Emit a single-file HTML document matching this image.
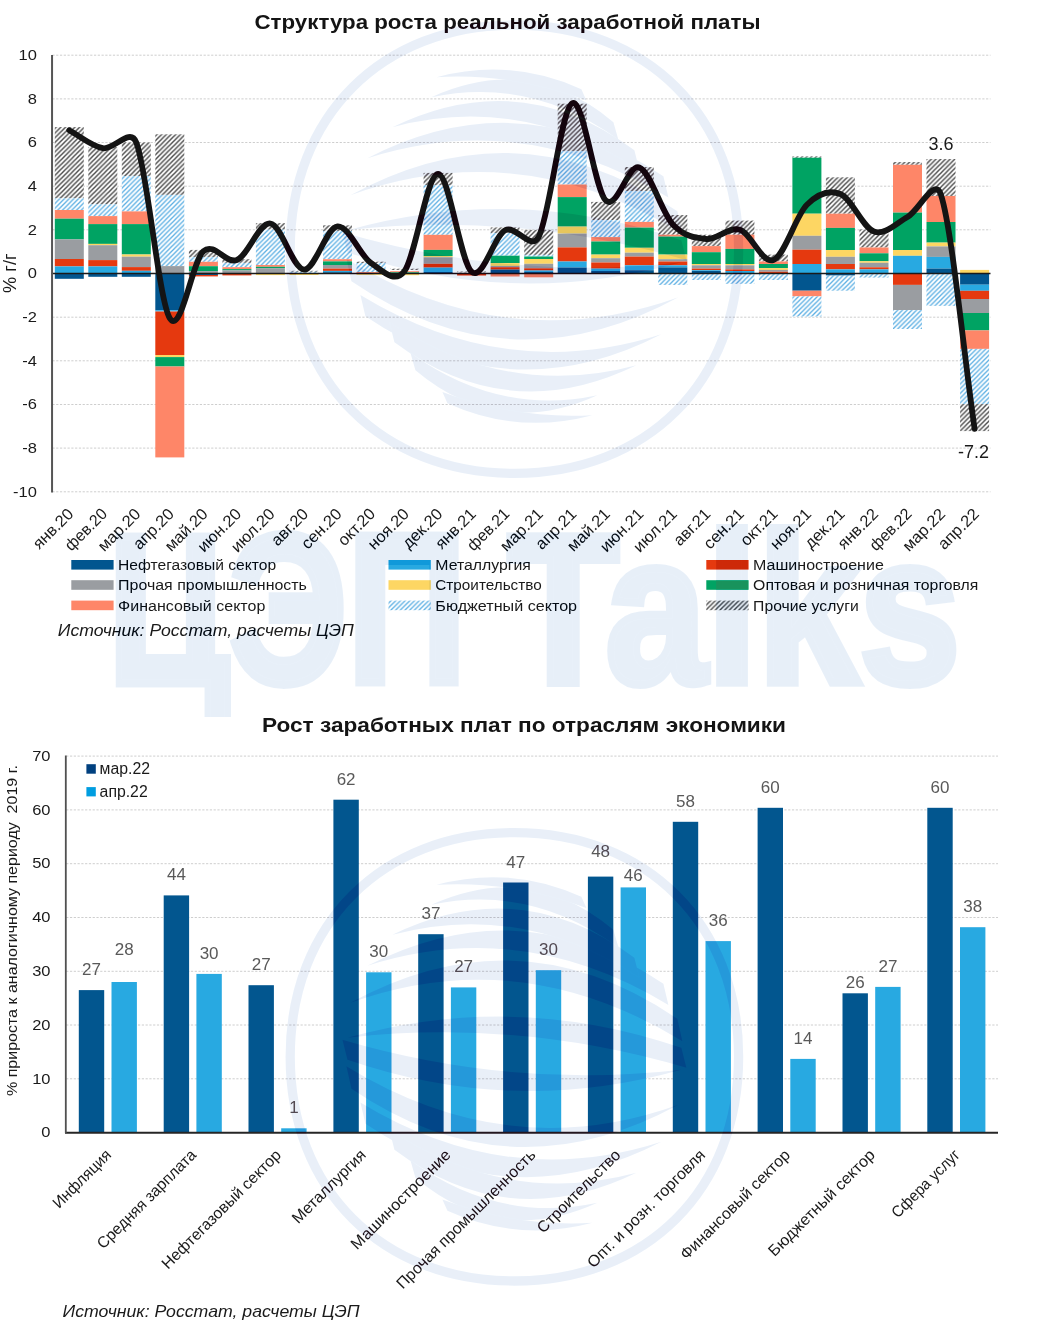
<!DOCTYPE html>
<html lang="ru"><head><meta charset="utf-8"><title>Структура роста реальной заработной платы</title>
<style>html,body{margin:0;padding:0;background:#fff}svg{display:block}</style></head>
<body>
<svg width="1038" height="1337" viewBox="0 0 1038 1337" font-family="'Liberation Sans', sans-serif">
<defs>
<pattern id="hB" width="4.7" height="4.7" patternUnits="userSpaceOnUse"><rect width="4.7" height="4.7" fill="#fff"/><path d="M-1,5.7 L5.7,-1 M-1,1 L1,-1 M3.7,5.7 L5.7,3.7" stroke="#5cafe3" stroke-width="1.32"/></pattern>
<pattern id="hH" width="4.7" height="4.7" patternUnits="userSpaceOnUse"><rect width="4.7" height="4.7" fill="#fff"/><path d="M-1,5.7 L5.7,-1 M-1,1 L1,-1 M3.7,5.7 L5.7,3.7" stroke="#4c4c4c" stroke-width="1.45"/></pattern>
</defs>
<rect width="1038" height="1337" fill="#fff"/>
<line x1="52.4" x2="990.5" y1="491.8" y2="491.8" stroke="#c8c8c8" stroke-width="0.9" stroke-dasharray="2.2,1.58"/>
<line x1="52.4" x2="990.5" y1="448.1" y2="448.1" stroke="#c8c8c8" stroke-width="0.9" stroke-dasharray="2.2,1.58"/>
<line x1="52.4" x2="990.5" y1="404.5" y2="404.5" stroke="#c8c8c8" stroke-width="0.9" stroke-dasharray="2.2,1.58"/>
<line x1="52.4" x2="990.5" y1="360.8" y2="360.8" stroke="#c8c8c8" stroke-width="0.9" stroke-dasharray="2.2,1.58"/>
<line x1="52.4" x2="990.5" y1="317.2" y2="317.2" stroke="#c8c8c8" stroke-width="0.9" stroke-dasharray="2.2,1.58"/>
<line x1="52.4" x2="990.5" y1="229.8" y2="229.8" stroke="#c8c8c8" stroke-width="0.9" stroke-dasharray="2.2,1.58"/>
<line x1="52.4" x2="990.5" y1="186.2" y2="186.2" stroke="#c8c8c8" stroke-width="0.9" stroke-dasharray="2.2,1.58"/>
<line x1="52.4" x2="990.5" y1="142.5" y2="142.5" stroke="#c8c8c8" stroke-width="0.9" stroke-dasharray="2.2,1.58"/>
<line x1="52.4" x2="990.5" y1="98.9" y2="98.9" stroke="#c8c8c8" stroke-width="0.9" stroke-dasharray="2.2,1.58"/>
<line x1="52.4" x2="990.5" y1="55.2" y2="55.2" stroke="#c8c8c8" stroke-width="0.9" stroke-dasharray="2.2,1.58"/>
<rect x="54.8" y="127.1" width="29.0" height="71.2" fill="url(#hH)"/>
<rect x="54.8" y="198.3" width="29.0" height="11.7" fill="url(#hB)"/>
<rect x="54.8" y="210.0" width="29.0" height="8.7" fill="#fe8668"/>
<rect x="54.8" y="218.7" width="29.0" height="20.7" fill="#00a363"/>
<rect x="54.8" y="239.4" width="29.0" height="19.6" fill="#9a9da1"/>
<rect x="54.8" y="259.0" width="29.0" height="7.4" fill="#e5390f"/>
<rect x="54.8" y="266.4" width="29.0" height="7.1" fill="#28a9e1"/>
<rect x="54.8" y="273.5" width="29.0" height="5.3" fill="#02568f"/>
<rect x="88.3" y="147.0" width="29.0" height="57.4" fill="url(#hH)"/>
<rect x="88.3" y="204.4" width="29.0" height="11.7" fill="url(#hB)"/>
<rect x="88.3" y="216.1" width="29.0" height="8.0" fill="#fe8668"/>
<rect x="88.3" y="224.1" width="29.0" height="19.8" fill="#00a363"/>
<rect x="88.3" y="243.9" width="29.0" height="1.3" fill="#fdd663"/>
<rect x="88.3" y="245.2" width="29.0" height="14.9" fill="#9a9da1"/>
<rect x="88.3" y="260.1" width="29.0" height="6.3" fill="#e5390f"/>
<rect x="88.3" y="266.4" width="29.0" height="7.1" fill="#28a9e1"/>
<rect x="88.3" y="273.5" width="29.0" height="3.3" fill="#02568f"/>
<rect x="121.8" y="142.4" width="29.0" height="33.7" fill="url(#hH)"/>
<rect x="121.8" y="176.1" width="29.0" height="35.3" fill="url(#hB)"/>
<rect x="121.8" y="211.4" width="29.0" height="12.7" fill="#fe8668"/>
<rect x="121.8" y="224.1" width="29.0" height="30.4" fill="#00a363"/>
<rect x="121.8" y="254.5" width="29.0" height="2.2" fill="#fdd663"/>
<rect x="121.8" y="256.7" width="29.0" height="10.4" fill="#9a9da1"/>
<rect x="121.8" y="267.1" width="29.0" height="3.7" fill="#e5390f"/>
<rect x="121.8" y="270.8" width="29.0" height="2.7" fill="#28a9e1"/>
<rect x="121.8" y="273.5" width="29.0" height="3.3" fill="#02568f"/>
<rect x="155.3" y="134.3" width="29.0" height="60.6" fill="url(#hH)"/>
<rect x="155.3" y="194.9" width="29.0" height="71.2" fill="url(#hB)"/>
<rect x="155.3" y="266.1" width="29.0" height="7.4" fill="#9a9da1"/>
<rect x="155.3" y="273.5" width="29.0" height="36.8" fill="#02568f"/>
<rect x="155.3" y="310.3" width="29.0" height="1.2" fill="#28a9e1"/>
<rect x="155.3" y="311.5" width="29.0" height="43.5" fill="#e5390f"/>
<rect x="155.3" y="355.0" width="29.0" height="2.1" fill="#fdd663"/>
<rect x="155.3" y="357.1" width="29.0" height="9.4" fill="#00a363"/>
<rect x="155.3" y="366.5" width="29.0" height="90.9" fill="#fe8668"/>
<rect x="188.9" y="249.9" width="29.0" height="7.2" fill="url(#hH)"/>
<rect x="188.9" y="257.1" width="29.0" height="4.7" fill="url(#hB)"/>
<rect x="188.9" y="261.8" width="29.0" height="4.4" fill="#fe8668"/>
<rect x="188.9" y="266.2" width="29.0" height="4.9" fill="#00a363"/>
<rect x="188.9" y="271.1" width="29.0" height="2.4" fill="#9a9da1"/>
<rect x="188.9" y="273.5" width="29.0" height="1.5" fill="#02568f"/>
<rect x="188.9" y="275.0" width="29.0" height="1.4" fill="#e5390f"/>
<rect x="222.4" y="259.2" width="29.0" height="3.7" fill="url(#hH)"/>
<rect x="222.4" y="262.9" width="29.0" height="4.3" fill="url(#hB)"/>
<rect x="222.4" y="267.2" width="29.0" height="1.9" fill="#fe8668"/>
<rect x="222.4" y="269.1" width="29.0" height="1.3" fill="#00a363"/>
<rect x="222.4" y="270.4" width="29.0" height="2.6" fill="#9a9da1"/>
<rect x="222.4" y="273.0" width="29.0" height="0.5" fill="#02568f"/>
<rect x="222.4" y="273.5" width="29.0" height="1.9" fill="#e5390f"/>
<rect x="255.9" y="223.1" width="29.0" height="6.5" fill="url(#hH)"/>
<rect x="255.9" y="229.6" width="29.0" height="35.4" fill="url(#hB)"/>
<rect x="255.9" y="265.0" width="29.0" height="1.8" fill="#fe8668"/>
<rect x="255.9" y="266.8" width="29.0" height="1.4" fill="#00a363"/>
<rect x="255.9" y="268.2" width="29.0" height="5.3" fill="#9a9da1"/>
<rect x="255.9" y="273.5" width="29.0" height="1.6" fill="#fdd663"/>
<rect x="289.5" y="270.8" width="29.0" height="1.0" fill="url(#hH)"/>
<rect x="289.5" y="271.8" width="29.0" height="1.7" fill="url(#hB)"/>
<rect x="289.5" y="273.5" width="29.0" height="1.5" fill="#fdd663"/>
<rect x="323.0" y="225.3" width="29.0" height="5.8" fill="url(#hH)"/>
<rect x="323.0" y="231.1" width="29.0" height="28.1" fill="url(#hB)"/>
<rect x="323.0" y="259.2" width="29.0" height="2.2" fill="#fe8668"/>
<rect x="323.0" y="261.4" width="29.0" height="3.6" fill="#00a363"/>
<rect x="323.0" y="265.0" width="29.0" height="3.6" fill="#9a9da1"/>
<rect x="323.0" y="268.6" width="29.0" height="2.3" fill="#e5390f"/>
<rect x="323.0" y="270.9" width="29.0" height="1.3" fill="#28a9e1"/>
<rect x="323.0" y="272.2" width="29.0" height="1.3" fill="#02568f"/>
<rect x="356.5" y="261.7" width="29.0" height="1.3" fill="url(#hH)"/>
<rect x="356.5" y="263.0" width="29.0" height="9.0" fill="url(#hB)"/>
<rect x="356.5" y="272.0" width="29.0" height="0.8" fill="#fe8668"/>
<rect x="356.5" y="272.8" width="29.0" height="0.7" fill="#e5390f"/>
<rect x="356.5" y="273.5" width="29.0" height="1.3" fill="#fdd663"/>
<rect x="390.1" y="268.7" width="29.0" height="1.3" fill="url(#hH)"/>
<rect x="390.1" y="271.2" width="29.0" height="1.1" fill="#fe8668"/>
<rect x="390.1" y="272.3" width="29.0" height="1.2" fill="#00a363"/>
<rect x="390.1" y="273.5" width="29.0" height="1.7" fill="#fdd663"/>
<rect x="423.6" y="172.9" width="29.0" height="12.3" fill="url(#hH)"/>
<rect x="423.6" y="185.2" width="29.0" height="49.6" fill="url(#hB)"/>
<rect x="423.6" y="234.8" width="29.0" height="15.1" fill="#fe8668"/>
<rect x="423.6" y="249.9" width="29.0" height="6.2" fill="#00a363"/>
<rect x="423.6" y="256.1" width="29.0" height="1.2" fill="#fdd663"/>
<rect x="423.6" y="257.3" width="29.0" height="6.5" fill="#9a9da1"/>
<rect x="423.6" y="263.8" width="29.0" height="3.8" fill="#e5390f"/>
<rect x="423.6" y="267.6" width="29.0" height="4.4" fill="#28a9e1"/>
<rect x="423.6" y="272.0" width="29.0" height="1.5" fill="#02568f"/>
<rect x="457.1" y="271.5" width="29.0" height="1.0" fill="url(#hH)"/>
<rect x="457.1" y="273.5" width="29.0" height="2.0" fill="#e5390f"/>
<rect x="490.6" y="227.4" width="29.0" height="5.7" fill="url(#hH)"/>
<rect x="490.6" y="233.1" width="29.0" height="22.6" fill="url(#hB)"/>
<rect x="490.6" y="255.7" width="29.0" height="7.4" fill="#00a363"/>
<rect x="490.6" y="263.1" width="29.0" height="2.8" fill="#fdd663"/>
<rect x="490.6" y="265.9" width="29.0" height="1.3" fill="#9a9da1"/>
<rect x="490.6" y="267.2" width="29.0" height="2.4" fill="#e5390f"/>
<rect x="490.6" y="269.6" width="29.0" height="3.9" fill="#02568f"/>
<rect x="490.6" y="273.5" width="29.0" height="3.0" fill="#fe8668"/>
<rect x="524.2" y="229.9" width="29.0" height="25.0" fill="url(#hH)"/>
<rect x="524.2" y="254.9" width="29.0" height="1.6" fill="url(#hB)"/>
<rect x="524.2" y="256.5" width="29.0" height="2.5" fill="#00a363"/>
<rect x="524.2" y="259.0" width="29.0" height="4.8" fill="#fdd663"/>
<rect x="524.2" y="263.8" width="29.0" height="4.5" fill="#9a9da1"/>
<rect x="524.2" y="268.3" width="29.0" height="2.2" fill="#e5390f"/>
<rect x="524.2" y="270.5" width="29.0" height="1.5" fill="#28a9e1"/>
<rect x="524.2" y="272.0" width="29.0" height="1.5" fill="#02568f"/>
<rect x="524.2" y="273.5" width="29.0" height="3.8" fill="#fe8668"/>
<rect x="557.7" y="103.7" width="29.0" height="47.5" fill="url(#hH)"/>
<rect x="557.7" y="151.2" width="29.0" height="33.3" fill="url(#hB)"/>
<rect x="557.7" y="184.5" width="29.0" height="12.6" fill="#fe8668"/>
<rect x="557.7" y="197.1" width="29.0" height="29.5" fill="#00a363"/>
<rect x="557.7" y="226.6" width="29.0" height="7.0" fill="#fdd663"/>
<rect x="557.7" y="233.6" width="29.0" height="13.8" fill="#9a9da1"/>
<rect x="557.7" y="247.4" width="29.0" height="14.1" fill="#e5390f"/>
<rect x="557.7" y="261.5" width="29.0" height="6.0" fill="#28a9e1"/>
<rect x="557.7" y="267.5" width="29.0" height="6.0" fill="#02568f"/>
<rect x="591.2" y="201.9" width="29.0" height="18.3" fill="url(#hH)"/>
<rect x="591.2" y="220.2" width="29.0" height="16.9" fill="url(#hB)"/>
<rect x="591.2" y="237.1" width="29.0" height="4.4" fill="#fe8668"/>
<rect x="591.2" y="241.5" width="29.0" height="13.1" fill="#00a363"/>
<rect x="591.2" y="254.6" width="29.0" height="3.6" fill="#fdd663"/>
<rect x="591.2" y="258.2" width="29.0" height="4.3" fill="#9a9da1"/>
<rect x="591.2" y="262.5" width="29.0" height="6.1" fill="#e5390f"/>
<rect x="591.2" y="268.6" width="29.0" height="2.4" fill="#28a9e1"/>
<rect x="591.2" y="271.0" width="29.0" height="2.5" fill="#02568f"/>
<rect x="624.8" y="167.0" width="29.0" height="24.1" fill="url(#hH)"/>
<rect x="624.8" y="191.1" width="29.0" height="30.8" fill="url(#hB)"/>
<rect x="624.8" y="221.9" width="29.0" height="5.7" fill="#fe8668"/>
<rect x="624.8" y="227.6" width="29.0" height="20.2" fill="#00a363"/>
<rect x="624.8" y="247.8" width="29.0" height="4.9" fill="#fdd663"/>
<rect x="624.8" y="252.7" width="29.0" height="3.9" fill="#9a9da1"/>
<rect x="624.8" y="256.6" width="29.0" height="8.7" fill="#e5390f"/>
<rect x="624.8" y="265.3" width="29.0" height="4.9" fill="#28a9e1"/>
<rect x="624.8" y="270.2" width="29.0" height="3.3" fill="#02568f"/>
<rect x="658.3" y="215.0" width="29.0" height="19.7" fill="url(#hH)"/>
<rect x="658.3" y="234.7" width="29.0" height="1.9" fill="#fe8668"/>
<rect x="658.3" y="236.6" width="29.0" height="18.0" fill="#00a363"/>
<rect x="658.3" y="254.6" width="29.0" height="4.6" fill="#fdd663"/>
<rect x="658.3" y="259.2" width="29.0" height="2.3" fill="#9a9da1"/>
<rect x="658.3" y="261.5" width="29.0" height="3.8" fill="#e5390f"/>
<rect x="658.3" y="265.3" width="29.0" height="2.1" fill="#28a9e1"/>
<rect x="658.3" y="267.4" width="29.0" height="6.1" fill="#02568f"/>
<rect x="658.3" y="273.5" width="29.0" height="11.4" fill="url(#hB)"/>
<rect x="691.8" y="234.7" width="29.0" height="11.4" fill="url(#hH)"/>
<rect x="691.8" y="246.1" width="29.0" height="6.1" fill="#fe8668"/>
<rect x="691.8" y="252.2" width="29.0" height="11.8" fill="#00a363"/>
<rect x="691.8" y="264.0" width="29.0" height="1.3" fill="#fdd663"/>
<rect x="691.8" y="265.3" width="29.0" height="3.3" fill="#9a9da1"/>
<rect x="691.8" y="268.6" width="29.0" height="1.6" fill="#e5390f"/>
<rect x="691.8" y="270.2" width="29.0" height="0.8" fill="#28a9e1"/>
<rect x="691.8" y="271.0" width="29.0" height="2.5" fill="#02568f"/>
<rect x="691.8" y="273.5" width="29.0" height="6.5" fill="url(#hB)"/>
<rect x="725.4" y="220.6" width="29.0" height="14.1" fill="url(#hH)"/>
<rect x="725.4" y="234.7" width="29.0" height="14.2" fill="#fe8668"/>
<rect x="725.4" y="248.9" width="29.0" height="15.1" fill="#00a363"/>
<rect x="725.4" y="264.0" width="29.0" height="1.3" fill="#fdd663"/>
<rect x="725.4" y="265.3" width="29.0" height="4.1" fill="#9a9da1"/>
<rect x="725.4" y="269.4" width="29.0" height="1.6" fill="#e5390f"/>
<rect x="725.4" y="271.0" width="29.0" height="2.5" fill="#28a9e1"/>
<rect x="725.4" y="273.5" width="29.0" height="10.3" fill="url(#hB)"/>
<rect x="758.9" y="254.6" width="29.0" height="6.9" fill="url(#hH)"/>
<rect x="758.9" y="261.5" width="29.0" height="2.5" fill="#fe8668"/>
<rect x="758.9" y="264.0" width="29.0" height="4.1" fill="#00a363"/>
<rect x="758.9" y="268.1" width="29.0" height="1.8" fill="#fdd663"/>
<rect x="758.9" y="269.9" width="29.0" height="1.9" fill="#9a9da1"/>
<rect x="758.9" y="271.8" width="29.0" height="1.7" fill="#e5390f"/>
<rect x="758.9" y="273.5" width="29.0" height="6.5" fill="url(#hB)"/>
<rect x="792.4" y="156.4" width="29.0" height="1.3" fill="url(#hH)"/>
<rect x="792.4" y="157.7" width="29.0" height="56.0" fill="#00a363"/>
<rect x="792.4" y="213.7" width="29.0" height="22.1" fill="#fdd663"/>
<rect x="792.4" y="235.8" width="29.0" height="13.9" fill="#9a9da1"/>
<rect x="792.4" y="249.7" width="29.0" height="14.3" fill="#e5390f"/>
<rect x="792.4" y="264.0" width="29.0" height="9.5" fill="#28a9e1"/>
<rect x="792.4" y="273.5" width="29.0" height="17.2" fill="#02568f"/>
<rect x="792.4" y="290.7" width="29.0" height="5.7" fill="#fe8668"/>
<rect x="792.4" y="296.4" width="29.0" height="20.1" fill="url(#hB)"/>
<rect x="825.9" y="177.3" width="29.0" height="36.4" fill="url(#hH)"/>
<rect x="825.9" y="213.7" width="29.0" height="14.2" fill="#fe8668"/>
<rect x="825.9" y="227.9" width="29.0" height="22.1" fill="#00a363"/>
<rect x="825.9" y="250.0" width="29.0" height="6.8" fill="#fdd663"/>
<rect x="825.9" y="256.8" width="29.0" height="7.2" fill="#9a9da1"/>
<rect x="825.9" y="264.0" width="29.0" height="5.4" fill="#e5390f"/>
<rect x="825.9" y="269.4" width="29.0" height="4.1" fill="#28a9e1"/>
<rect x="825.9" y="273.5" width="29.0" height="2.1" fill="#02568f"/>
<rect x="825.9" y="275.6" width="29.0" height="15.1" fill="url(#hB)"/>
<rect x="859.5" y="229.4" width="29.0" height="18.1" fill="url(#hH)"/>
<rect x="859.5" y="247.5" width="29.0" height="5.8" fill="#fe8668"/>
<rect x="859.5" y="253.3" width="29.0" height="7.9" fill="#00a363"/>
<rect x="859.5" y="261.2" width="29.0" height="1.6" fill="#fdd663"/>
<rect x="859.5" y="262.8" width="29.0" height="4.5" fill="#9a9da1"/>
<rect x="859.5" y="267.3" width="29.0" height="2.1" fill="#e5390f"/>
<rect x="859.5" y="269.4" width="29.0" height="4.1" fill="#28a9e1"/>
<rect x="859.5" y="273.5" width="29.0" height="4.1" fill="url(#hB)"/>
<rect x="893.0" y="162.0" width="29.0" height="2.8" fill="url(#hH)"/>
<rect x="893.0" y="164.8" width="29.0" height="47.8" fill="#fe8668"/>
<rect x="893.0" y="212.6" width="29.0" height="37.4" fill="#00a363"/>
<rect x="893.0" y="250.0" width="29.0" height="5.8" fill="#fdd663"/>
<rect x="893.0" y="255.8" width="29.0" height="17.7" fill="#28a9e1"/>
<rect x="893.0" y="273.5" width="29.0" height="11.4" fill="#e5390f"/>
<rect x="893.0" y="284.9" width="29.0" height="25.2" fill="#9a9da1"/>
<rect x="893.0" y="310.1" width="29.0" height="18.9" fill="url(#hB)"/>
<rect x="926.5" y="159.0" width="29.0" height="37.0" fill="url(#hH)"/>
<rect x="926.5" y="196.0" width="29.0" height="26.0" fill="#fe8668"/>
<rect x="926.5" y="222.0" width="29.0" height="20.6" fill="#00a363"/>
<rect x="926.5" y="242.6" width="29.0" height="3.8" fill="#fdd663"/>
<rect x="926.5" y="246.4" width="29.0" height="10.5" fill="#9a9da1"/>
<rect x="926.5" y="256.9" width="29.0" height="11.7" fill="#28a9e1"/>
<rect x="926.5" y="268.6" width="29.0" height="4.9" fill="#02568f"/>
<rect x="926.5" y="273.5" width="29.0" height="32.4" fill="url(#hB)"/>
<rect x="960.1" y="269.9" width="29.0" height="3.6" fill="#fdd663"/>
<rect x="960.1" y="273.5" width="29.0" height="11.2" fill="#02568f"/>
<rect x="960.1" y="284.7" width="29.0" height="6.1" fill="#28a9e1"/>
<rect x="960.1" y="290.8" width="29.0" height="8.2" fill="#e5390f"/>
<rect x="960.1" y="299.0" width="29.0" height="14.0" fill="#9a9da1"/>
<rect x="960.1" y="313.0" width="29.0" height="17.4" fill="#00a363"/>
<rect x="960.1" y="330.4" width="29.0" height="18.5" fill="#fe8668"/>
<rect x="960.1" y="348.9" width="29.0" height="55.1" fill="url(#hB)"/>
<rect x="960.1" y="404.0" width="29.0" height="27.1" fill="url(#hH)"/>
<line x1="51.2" x2="990.5" y1="273.5" y2="273.5" stroke="#1a1a1a" stroke-width="1.3"/>
<line x1="52.05" x2="52.05" y1="54.9" y2="492.5" stroke="#555" stroke-width="2"/>
<path d="M69.2,130.3 C80.4,136.3 91.6,146.2 102.8,148.2 C114.0,150.2 130.1,126.7 136.3,142.5 C147.5,170.9 158.7,300.1 169.8,318.3 C181.0,336.4 192.2,260.9 203.4,251.2 C214.5,241.5 225.7,264.6 236.9,260.0 C248.1,255.3 259.3,221.9 270.4,223.5 C281.6,225.1 292.8,269.1 304.0,269.6 C315.1,270.0 326.3,227.4 337.5,226.3 C348.7,225.3 359.8,255.6 371.0,263.0 C382.2,270.4 394.2,284.6 404.6,270.9 C415.7,256.0 426.9,173.8 438.1,174.0 C449.3,174.1 460.4,262.4 471.6,271.8 C482.8,281.1 494.0,236.1 505.1,230.3 C516.3,224.5 530.7,251.9 538.7,236.8 C549.8,215.7 561.0,109.3 572.2,103.2 C583.4,97.1 594.6,189.7 605.7,200.4 C616.9,211.1 628.1,163.4 639.3,167.4 C650.4,171.4 661.6,212.4 672.8,224.4 C684.0,236.3 695.1,238.1 706.3,239.0 C717.5,239.9 728.7,226.3 739.9,229.8 C751.0,233.3 762.2,264.1 773.4,260.0 C784.6,255.8 795.7,215.7 806.9,204.7 C818.1,193.7 829.3,189.6 840.4,194.0 C851.6,198.5 862.8,227.8 874.0,231.6 C885.1,235.4 896.3,223.1 907.5,217.0 C918.7,210.8 935.0,175.8 941.0,194.9 C952.2,230.2 963.4,350.9 974.6,428.9" fill="none" stroke="#141414" stroke-width="5.8" stroke-linecap="round" stroke-linejoin="round"/>
<text x="13.07" y="496.5" font-size="15.2" fill="#1a1a1a" textLength="23.83" lengthAdjust="spacingAndGlyphs">-10</text>
<text x="22.24" y="452.8" font-size="15.2" fill="#1a1a1a" textLength="14.66" lengthAdjust="spacingAndGlyphs">-8</text>
<text x="22.24" y="409.2" font-size="15.2" fill="#1a1a1a" textLength="14.66" lengthAdjust="spacingAndGlyphs">-6</text>
<text x="22.24" y="365.5" font-size="15.2" fill="#1a1a1a" textLength="14.66" lengthAdjust="spacingAndGlyphs">-4</text>
<text x="22.24" y="321.9" font-size="15.2" fill="#1a1a1a" textLength="14.66" lengthAdjust="spacingAndGlyphs">-2</text>
<text x="27.73" y="278.2" font-size="15.2" fill="#1a1a1a" textLength="9.17" lengthAdjust="spacingAndGlyphs">0</text>
<text x="27.73" y="234.5" font-size="15.2" fill="#1a1a1a" textLength="9.17" lengthAdjust="spacingAndGlyphs">2</text>
<text x="27.73" y="190.9" font-size="15.2" fill="#1a1a1a" textLength="9.17" lengthAdjust="spacingAndGlyphs">4</text>
<text x="27.73" y="147.2" font-size="15.2" fill="#1a1a1a" textLength="9.17" lengthAdjust="spacingAndGlyphs">6</text>
<text x="27.73" y="103.6" font-size="15.2" fill="#1a1a1a" textLength="9.17" lengthAdjust="spacingAndGlyphs">8</text>
<text x="18.56" y="59.9" font-size="15.2" fill="#1a1a1a" textLength="18.34" lengthAdjust="spacingAndGlyphs">10</text>
<text transform="translate(16.2,293) rotate(-90)" font-size="18" fill="#1a1a1a" textLength="39.6" lengthAdjust="spacingAndGlyphs">% г/г</text>
<text transform="translate(74.5,514.9) rotate(-45)" x="-49.8" font-size="16.2" fill="#1a1a1a" textLength="49.8" lengthAdjust="spacingAndGlyphs">янв.20</text>
<text transform="translate(108.1,514.9) rotate(-45)" x="-52.1" font-size="16.2" fill="#1a1a1a" textLength="52.1" lengthAdjust="spacingAndGlyphs">фев.20</text>
<text transform="translate(141.6,514.9) rotate(-45)" x="-52.9" font-size="16.2" fill="#1a1a1a" textLength="52.9" lengthAdjust="spacingAndGlyphs">мар.20</text>
<text transform="translate(175.1,514.9) rotate(-45)" x="-50.4" font-size="16.2" fill="#1a1a1a" textLength="50.4" lengthAdjust="spacingAndGlyphs">апр.20</text>
<text transform="translate(208.7,514.9) rotate(-45)" x="-52.9" font-size="16.2" fill="#1a1a1a" textLength="52.9" lengthAdjust="spacingAndGlyphs">май.20</text>
<text transform="translate(242.2,514.9) rotate(-45)" x="-54.0" font-size="16.2" fill="#1a1a1a" textLength="54.0" lengthAdjust="spacingAndGlyphs">июн.20</text>
<text transform="translate(275.7,514.9) rotate(-45)" x="-54.1" font-size="16.2" fill="#1a1a1a" textLength="54.1" lengthAdjust="spacingAndGlyphs">июл.20</text>
<text transform="translate(309.3,514.9) rotate(-45)" x="-44.9" font-size="16.2" fill="#1a1a1a" textLength="44.9" lengthAdjust="spacingAndGlyphs">авг.20</text>
<text transform="translate(342.8,514.9) rotate(-45)" x="-49.6" font-size="16.2" fill="#1a1a1a" textLength="49.6" lengthAdjust="spacingAndGlyphs">сен.20</text>
<text transform="translate(376.3,514.9) rotate(-45)" x="-45.2" font-size="16.2" fill="#1a1a1a" textLength="45.2" lengthAdjust="spacingAndGlyphs">окт.20</text>
<text transform="translate(409.9,514.9) rotate(-45)" x="-50.3" font-size="16.2" fill="#1a1a1a" textLength="50.3" lengthAdjust="spacingAndGlyphs">ноя.20</text>
<text transform="translate(443.4,514.9) rotate(-45)" x="-49.1" font-size="16.2" fill="#1a1a1a" textLength="49.1" lengthAdjust="spacingAndGlyphs">дек.20</text>
<text transform="translate(476.9,514.9) rotate(-45)" x="-49.8" font-size="16.2" fill="#1a1a1a" textLength="49.8" lengthAdjust="spacingAndGlyphs">янв.21</text>
<text transform="translate(510.4,514.9) rotate(-45)" x="-52.1" font-size="16.2" fill="#1a1a1a" textLength="52.1" lengthAdjust="spacingAndGlyphs">фев.21</text>
<text transform="translate(544.0,514.9) rotate(-45)" x="-52.9" font-size="16.2" fill="#1a1a1a" textLength="52.9" lengthAdjust="spacingAndGlyphs">мар.21</text>
<text transform="translate(577.5,514.9) rotate(-45)" x="-50.4" font-size="16.2" fill="#1a1a1a" textLength="50.4" lengthAdjust="spacingAndGlyphs">апр.21</text>
<text transform="translate(611.0,514.9) rotate(-45)" x="-52.9" font-size="16.2" fill="#1a1a1a" textLength="52.9" lengthAdjust="spacingAndGlyphs">май.21</text>
<text transform="translate(644.6,514.9) rotate(-45)" x="-54.0" font-size="16.2" fill="#1a1a1a" textLength="54.0" lengthAdjust="spacingAndGlyphs">июн.21</text>
<text transform="translate(678.1,514.9) rotate(-45)" x="-54.1" font-size="16.2" fill="#1a1a1a" textLength="54.1" lengthAdjust="spacingAndGlyphs">июл.21</text>
<text transform="translate(711.6,514.9) rotate(-45)" x="-44.9" font-size="16.2" fill="#1a1a1a" textLength="44.9" lengthAdjust="spacingAndGlyphs">авг.21</text>
<text transform="translate(745.1,514.9) rotate(-45)" x="-49.6" font-size="16.2" fill="#1a1a1a" textLength="49.6" lengthAdjust="spacingAndGlyphs">сен.21</text>
<text transform="translate(778.7,514.9) rotate(-45)" x="-45.2" font-size="16.2" fill="#1a1a1a" textLength="45.2" lengthAdjust="spacingAndGlyphs">окт.21</text>
<text transform="translate(812.2,514.9) rotate(-45)" x="-50.3" font-size="16.2" fill="#1a1a1a" textLength="50.3" lengthAdjust="spacingAndGlyphs">ноя.21</text>
<text transform="translate(845.7,514.9) rotate(-45)" x="-49.1" font-size="16.2" fill="#1a1a1a" textLength="49.1" lengthAdjust="spacingAndGlyphs">дек.21</text>
<text transform="translate(879.3,514.9) rotate(-45)" x="-49.8" font-size="16.2" fill="#1a1a1a" textLength="49.8" lengthAdjust="spacingAndGlyphs">янв.22</text>
<text transform="translate(912.8,514.9) rotate(-45)" x="-52.1" font-size="16.2" fill="#1a1a1a" textLength="52.1" lengthAdjust="spacingAndGlyphs">фев.22</text>
<text transform="translate(946.3,514.9) rotate(-45)" x="-52.9" font-size="16.2" fill="#1a1a1a" textLength="52.9" lengthAdjust="spacingAndGlyphs">мар.22</text>
<text transform="translate(979.9,514.9) rotate(-45)" x="-50.4" font-size="16.2" fill="#1a1a1a" textLength="50.4" lengthAdjust="spacingAndGlyphs">апр.22</text>
<text x="941" y="149.5" font-size="18" text-anchor="middle" fill="#1a1a1a">3.6</text>
<text x="973.5" y="457.5" font-size="18" text-anchor="middle" fill="#1a1a1a">-7.2</text>
<text x="507.5" y="28.8" font-size="21" font-weight="bold" text-anchor="middle" fill="#141414" textLength="506" lengthAdjust="spacingAndGlyphs">Структура роста реальной заработной платы</text>
<rect x="71.3" y="560.0" width="42.3" height="9.6" fill="#02568f"/>
<text x="118.1" y="570.0" font-size="15.3" fill="#1a1a1a" textLength="158" lengthAdjust="spacingAndGlyphs">Нефтегазовый сектор</text>
<rect x="388.5" y="560.0" width="42.3" height="9.6" fill="#28a9e1"/>
<text x="435.3" y="570.0" font-size="15.3" fill="#1a1a1a" textLength="95.6" lengthAdjust="spacingAndGlyphs">Металлургия</text>
<rect x="706.3" y="560.0" width="42.3" height="9.6" fill="#e5390f"/>
<text x="753.1" y="570.0" font-size="15.3" fill="#1a1a1a" textLength="130.7" lengthAdjust="spacingAndGlyphs">Машиностроение</text>
<rect x="71.3" y="580.2" width="42.3" height="9.6" fill="#9a9da1"/>
<text x="118.1" y="590.2" font-size="15.3" fill="#1a1a1a" textLength="188.8" lengthAdjust="spacingAndGlyphs">Прочая промышленность</text>
<rect x="388.5" y="580.2" width="42.3" height="9.6" fill="#fdd663"/>
<text x="435.3" y="590.2" font-size="15.3" fill="#1a1a1a" textLength="106.4" lengthAdjust="spacingAndGlyphs">Строительство</text>
<rect x="706.3" y="580.2" width="42.3" height="9.6" fill="#00a363"/>
<text x="753.1" y="590.2" font-size="15.3" fill="#1a1a1a" textLength="225.3" lengthAdjust="spacingAndGlyphs">Оптовая и розничная торговля</text>
<rect x="71.3" y="600.6" width="42.3" height="9.6" fill="#fe8668"/>
<text x="118.1" y="610.6" font-size="15.3" fill="#1a1a1a" textLength="147.2" lengthAdjust="spacingAndGlyphs">Финансовый сектор</text>
<rect x="388.5" y="600.6" width="42.3" height="9.6" fill="url(#hB)"/>
<text x="435.3" y="610.6" font-size="15.3" fill="#1a1a1a" textLength="141.8" lengthAdjust="spacingAndGlyphs">Бюджетный сектор</text>
<rect x="706.3" y="600.6" width="42.3" height="9.6" fill="url(#hH)"/>
<text x="753.1" y="610.6" font-size="15.3" fill="#1a1a1a" textLength="105.6" lengthAdjust="spacingAndGlyphs">Прочие услуги</text>
<text x="57.8" y="636" font-size="17" font-style="italic" fill="#1a1a1a" textLength="296" lengthAdjust="spacingAndGlyphs">Источник: Росстат, расчеты ЦЭП</text>
<line x1="66.2" x2="998" y1="1078.8" y2="1078.8" stroke="#c8c8c8" stroke-width="0.9" stroke-dasharray="2.2,1.58"/>
<line x1="66.2" x2="998" y1="1025.0" y2="1025.0" stroke="#c8c8c8" stroke-width="0.9" stroke-dasharray="2.2,1.58"/>
<line x1="66.2" x2="998" y1="971.3" y2="971.3" stroke="#c8c8c8" stroke-width="0.9" stroke-dasharray="2.2,1.58"/>
<line x1="66.2" x2="998" y1="917.5" y2="917.5" stroke="#c8c8c8" stroke-width="0.9" stroke-dasharray="2.2,1.58"/>
<line x1="66.2" x2="998" y1="863.7" y2="863.7" stroke="#c8c8c8" stroke-width="0.9" stroke-dasharray="2.2,1.58"/>
<line x1="66.2" x2="998" y1="809.9" y2="809.9" stroke="#c8c8c8" stroke-width="0.9" stroke-dasharray="2.2,1.58"/>
<line x1="66.2" x2="998" y1="756.1" y2="756.1" stroke="#c8c8c8" stroke-width="0.9" stroke-dasharray="2.2,1.58"/>
<rect x="78.8" y="990.1" width="25.4" height="142.5" fill="#02568f"/>
<rect x="111.5" y="982.0" width="25.4" height="150.6" fill="#28a9e1"/>
<text x="91.5" y="975.1" font-size="17" text-anchor="middle" fill="#595959">27</text>
<text x="124.2" y="955.0" font-size="17" text-anchor="middle" fill="#595959">28</text>
<text transform="translate(112.3,1155.9) rotate(-45)" x="-75.5" font-size="15.8" fill="#1a1a1a" textLength="75.5" lengthAdjust="spacingAndGlyphs">Инфляция</text>
<rect x="163.7" y="895.4" width="25.4" height="237.2" fill="#02568f"/>
<rect x="196.4" y="973.9" width="25.4" height="158.7" fill="#28a9e1"/>
<text x="176.4" y="880.4" font-size="17" text-anchor="middle" fill="#595959">44</text>
<text x="209.1" y="958.9" font-size="17" text-anchor="middle" fill="#595959">30</text>
<text transform="translate(197.2,1155.9) rotate(-45)" x="-132.8" font-size="15.8" fill="#1a1a1a" textLength="132.8" lengthAdjust="spacingAndGlyphs">Средняя зарплата</text>
<rect x="248.5" y="985.2" width="25.4" height="147.4" fill="#02568f"/>
<rect x="281.2" y="1128.3" width="25.4" height="4.3" fill="#28a9e1"/>
<text x="261.2" y="970.2" font-size="17" text-anchor="middle" fill="#595959">27</text>
<text x="293.9" y="1113.3" font-size="17" text-anchor="middle" fill="#595959">1</text>
<text transform="translate(282.0,1155.9) rotate(-45)" x="-161.3" font-size="15.8" fill="#1a1a1a" textLength="161.3" lengthAdjust="spacingAndGlyphs">Нефтегазовый сектор</text>
<rect x="333.4" y="799.7" width="25.4" height="332.9" fill="#02568f"/>
<rect x="366.1" y="972.3" width="25.4" height="160.3" fill="#28a9e1"/>
<text x="346.1" y="784.7" font-size="17" text-anchor="middle" fill="#595959">62</text>
<text x="378.8" y="957.3" font-size="17" text-anchor="middle" fill="#595959">30</text>
<text transform="translate(366.9,1155.9) rotate(-45)" x="-97.2" font-size="15.8" fill="#1a1a1a" textLength="97.2" lengthAdjust="spacingAndGlyphs">Металлургия</text>
<rect x="418.2" y="934.2" width="25.4" height="198.4" fill="#02568f"/>
<rect x="450.9" y="987.4" width="25.4" height="145.2" fill="#28a9e1"/>
<text x="430.9" y="919.2" font-size="17" text-anchor="middle" fill="#595959">37</text>
<text x="463.6" y="972.4" font-size="17" text-anchor="middle" fill="#595959">27</text>
<text transform="translate(451.7,1155.9) rotate(-45)" x="-133.8" font-size="15.8" fill="#1a1a1a" textLength="133.8" lengthAdjust="spacingAndGlyphs">Машиностроение</text>
<rect x="503.1" y="882.5" width="25.4" height="250.1" fill="#02568f"/>
<rect x="535.8" y="970.2" width="25.4" height="162.4" fill="#28a9e1"/>
<text x="515.8" y="867.5" font-size="17" text-anchor="middle" fill="#595959">47</text>
<text x="548.5" y="955.2" font-size="17" text-anchor="middle" fill="#595959">30</text>
<text transform="translate(536.6,1155.9) rotate(-45)" x="-189.3" font-size="15.8" fill="#1a1a1a" textLength="189.3" lengthAdjust="spacingAndGlyphs">Прочая промышленность</text>
<rect x="587.9" y="876.6" width="25.4" height="256.0" fill="#02568f"/>
<rect x="620.6" y="887.4" width="25.4" height="245.2" fill="#28a9e1"/>
<text x="600.6" y="857.1" font-size="17" text-anchor="middle" fill="#595959">48</text>
<text x="633.3" y="881.2" font-size="17" text-anchor="middle" fill="#595959">46</text>
<text transform="translate(621.4,1155.9) rotate(-45)" x="-110.4" font-size="15.8" fill="#1a1a1a" textLength="110.4" lengthAdjust="spacingAndGlyphs">Строительство</text>
<rect x="672.8" y="821.8" width="25.4" height="310.8" fill="#02568f"/>
<rect x="705.5" y="941.1" width="25.4" height="191.5" fill="#28a9e1"/>
<text x="685.5" y="806.8" font-size="17" text-anchor="middle" fill="#595959">58</text>
<text x="718.2" y="926.1" font-size="17" text-anchor="middle" fill="#595959">36</text>
<text transform="translate(706.3,1155.9) rotate(-45)" x="-159.6" font-size="15.8" fill="#1a1a1a" textLength="159.6" lengthAdjust="spacingAndGlyphs">Опт. и розн. торговля</text>
<rect x="757.6" y="807.8" width="25.4" height="324.8" fill="#02568f"/>
<rect x="790.3" y="1058.9" width="25.4" height="73.7" fill="#28a9e1"/>
<text x="770.3" y="792.8" font-size="17" text-anchor="middle" fill="#595959">60</text>
<text x="803.0" y="1043.9" font-size="17" text-anchor="middle" fill="#595959">14</text>
<text transform="translate(791.1,1155.9) rotate(-45)" x="-148.0" font-size="15.8" fill="#1a1a1a" textLength="148.0" lengthAdjust="spacingAndGlyphs">Финансовый сектор</text>
<rect x="842.5" y="993.3" width="25.4" height="139.3" fill="#02568f"/>
<rect x="875.2" y="986.9" width="25.4" height="145.7" fill="#28a9e1"/>
<text x="855.2" y="988.1" font-size="17" text-anchor="middle" fill="#595959">26</text>
<text x="887.9" y="971.9" font-size="17" text-anchor="middle" fill="#595959">27</text>
<text transform="translate(876.0,1155.9) rotate(-45)" x="-143.4" font-size="15.8" fill="#1a1a1a" textLength="143.4" lengthAdjust="spacingAndGlyphs">Бюджетный сектор</text>
<rect x="927.3" y="807.8" width="25.4" height="324.8" fill="#02568f"/>
<rect x="960.0" y="927.2" width="25.4" height="205.4" fill="#28a9e1"/>
<text x="940.0" y="792.8" font-size="17" text-anchor="middle" fill="#595959">60</text>
<text x="972.7" y="912.2" font-size="17" text-anchor="middle" fill="#595959">38</text>
<text transform="translate(960.8,1155.9) rotate(-45)" x="-89.0" font-size="15.8" fill="#1a1a1a" textLength="89.0" lengthAdjust="spacingAndGlyphs">Сфера услуг</text>
<line x1="65.0" x2="998" y1="1132.6999999999998" y2="1132.6999999999998" stroke="#262626" stroke-width="1.9"/>
<line x1="65.8" x2="65.8" y1="755.5" y2="1133.1999999999998" stroke="#505050" stroke-width="1.8"/>
<text x="41.33" y="1137.3" font-size="15.2" fill="#1a1a1a" textLength="9.17" lengthAdjust="spacingAndGlyphs">0</text>
<text x="32.16" y="1083.5" font-size="15.2" fill="#1a1a1a" textLength="18.34" lengthAdjust="spacingAndGlyphs">10</text>
<text x="32.16" y="1029.7" font-size="15.2" fill="#1a1a1a" textLength="18.34" lengthAdjust="spacingAndGlyphs">20</text>
<text x="32.16" y="976.0" font-size="15.2" fill="#1a1a1a" textLength="18.34" lengthAdjust="spacingAndGlyphs">30</text>
<text x="32.16" y="922.2" font-size="15.2" fill="#1a1a1a" textLength="18.34" lengthAdjust="spacingAndGlyphs">40</text>
<text x="32.16" y="868.4" font-size="15.2" fill="#1a1a1a" textLength="18.34" lengthAdjust="spacingAndGlyphs">50</text>
<text x="32.16" y="814.6" font-size="15.2" fill="#1a1a1a" textLength="18.34" lengthAdjust="spacingAndGlyphs">60</text>
<text x="32.16" y="760.8" font-size="15.2" fill="#1a1a1a" textLength="18.34" lengthAdjust="spacingAndGlyphs">70</text>
<text transform="translate(17,1096) rotate(-90)" font-size="15.5" fill="#1a1a1a" textLength="331" lengthAdjust="spacingAndGlyphs" xml:space="preserve">% прироста к аналогичному периоду  2019 г.</text>
<text x="524" y="732.2" font-size="21" font-weight="bold" text-anchor="middle" fill="#141414" textLength="524" lengthAdjust="spacingAndGlyphs">Рост заработных плат по отраслям экономики</text>
<rect x="86.4" y="764.2" width="9.4" height="9.5" fill="#00407f"/><text x="99.6" y="774.2" font-size="15.8" fill="#1a1a1a">мар.22</text>
<rect x="86.4" y="787.1" width="9.4" height="9.3" fill="#009de0"/><text x="99.6" y="796.8" font-size="15.8" fill="#1a1a1a">апр.22</text>
<text x="62.6" y="1317" font-size="17" font-style="italic" fill="#1a1a1a" textLength="297" lengthAdjust="spacingAndGlyphs">Источник: Росстат, расчеты ЦЭП</text>
<g style="mix-blend-mode:multiply" fill="#e9ffff" stroke="none">
<path d="M738.6,249.2 C738.6,381.9 647.1,473.4 514.4,473.4 C381.7,473.4 290.2,381.9 290.2,249.2 C290.2,116.5 381.7,25.0 514.4,25.0 C647.1,25.0 738.6,116.5 738.6,249.2Z" fill="none" stroke="#e9ffff" stroke-width="9.3"/>
<path d="M347.4,252.2 Q512.8,309.2 681.4,262.2 Q510.9,281.6 342.4,232.2Z"/>
<path d="M347.4,230.2 Q516.0,183.2 681.4,240.2 L686.4,260.2 Q517.9,210.8 347.4,230.2Z"/>
<path d="M351.4,281.2 Q510.0,389.1 678.4,297.2 Q508.5,358.1 346.4,258.7Z"/>
<path d="M350.4,195.2 Q518.8,103.3 677.4,211.2 L682.4,233.7 Q520.3,134.3 350.4,195.2Z"/>
<path d="M365.4,316.2 Q508.1,413.0 661.4,334.2 Q506.7,383.7 360.4,294.9Z"/>
<path d="M367.4,158.2 Q520.7,79.4 663.4,176.2 L668.4,197.4 Q522.1,108.7 367.4,158.2Z"/>
<path d="M394.4,342.2 Q508.4,427.4 636.4,365.2 Q507.6,399.8 389.4,322.2Z"/>
<path d="M392.4,127.2 Q520.4,65.0 634.4,150.2 L639.4,170.2 Q521.2,92.6 392.4,127.2Z"/>
<path d="M415.4,370.2 Q498.5,440.2 597.4,395.2 Q498.1,416.2 410.4,352.7Z"/>
<path d="M431.4,97.2 Q530.3,52.2 613.4,122.2 L618.4,139.7 Q530.7,76.2 431.4,97.2Z"/>
<path d="M447.4,403.2 Q517.8,435.1 592.4,415.2 Q516.1,419.6 442.4,391.9Z"/>
<path d="M436.4,77.2 Q511.0,57.3 581.4,89.2 L586.4,100.4 Q512.7,72.8 436.4,77.2Z"/>
</g>
<g style="mix-blend-mode:difference" fill="#001007" stroke="none">
<path d="M738.6,249.2 C738.6,381.9 647.1,473.4 514.4,473.4 C381.7,473.4 290.2,381.9 290.2,249.2 C290.2,116.5 381.7,25.0 514.4,25.0 C647.1,25.0 738.6,116.5 738.6,249.2Z" fill="none" stroke="#001007" stroke-width="9.3"/>
<path d="M347.4,252.2 Q512.8,309.2 681.4,262.2 Q510.9,281.6 342.4,232.2Z"/>
<path d="M347.4,230.2 Q516.0,183.2 681.4,240.2 L686.4,260.2 Q517.9,210.8 347.4,230.2Z"/>
<path d="M351.4,281.2 Q510.0,389.1 678.4,297.2 Q508.5,358.1 346.4,258.7Z"/>
<path d="M350.4,195.2 Q518.8,103.3 677.4,211.2 L682.4,233.7 Q520.3,134.3 350.4,195.2Z"/>
<path d="M365.4,316.2 Q508.1,413.0 661.4,334.2 Q506.7,383.7 360.4,294.9Z"/>
<path d="M367.4,158.2 Q520.7,79.4 663.4,176.2 L668.4,197.4 Q522.1,108.7 367.4,158.2Z"/>
<path d="M394.4,342.2 Q508.4,427.4 636.4,365.2 Q507.6,399.8 389.4,322.2Z"/>
<path d="M392.4,127.2 Q520.4,65.0 634.4,150.2 L639.4,170.2 Q521.2,92.6 392.4,127.2Z"/>
<path d="M415.4,370.2 Q498.5,440.2 597.4,395.2 Q498.1,416.2 410.4,352.7Z"/>
<path d="M431.4,97.2 Q530.3,52.2 613.4,122.2 L618.4,139.7 Q530.7,76.2 431.4,97.2Z"/>
<path d="M447.4,403.2 Q517.8,435.1 592.4,415.2 Q516.1,419.6 442.4,391.9Z"/>
<path d="M436.4,77.2 Q511.0,57.3 581.4,89.2 L586.4,100.4 Q512.7,72.8 436.4,77.2Z"/>
</g>
<g style="mix-blend-mode:multiply" fill="#e9ffff" stroke="none">
<path d="M738.6,1056.8 C738.6,1189.5 647.1,1281.0 514.4,1281.0 C381.7,1281.0 290.2,1189.5 290.2,1056.8 C290.2,924.1 381.7,832.6 514.4,832.6 C647.1,832.6 738.6,924.1 738.6,1056.8Z" fill="none" stroke="#e9ffff" stroke-width="9.3"/>
<path d="M347.4,1059.8 Q512.8,1116.8 681.4,1069.8 Q510.9,1089.2 342.4,1039.8Z"/>
<path d="M347.4,1037.8 Q516.0,990.8 681.4,1047.8 L686.4,1067.8 Q517.9,1018.4 347.4,1037.8Z"/>
<path d="M351.4,1088.8 Q510.0,1196.7 678.4,1104.8 Q508.5,1165.7 346.4,1066.3Z"/>
<path d="M350.4,1002.8 Q518.8,910.9 677.4,1018.8 L682.4,1041.3 Q520.3,941.9 350.4,1002.8Z"/>
<path d="M365.4,1123.8 Q508.1,1220.6 661.4,1141.8 Q506.7,1191.3 360.4,1102.5Z"/>
<path d="M367.4,965.8 Q520.7,887.0 663.4,983.8 L668.4,1005.0 Q522.1,916.3 367.4,965.8Z"/>
<path d="M394.4,1149.8 Q508.4,1235.0 636.4,1172.8 Q507.6,1207.4 389.4,1129.8Z"/>
<path d="M392.4,934.8 Q520.4,872.6 634.4,957.8 L639.4,977.8 Q521.2,900.2 392.4,934.8Z"/>
<path d="M415.4,1177.8 Q498.5,1247.8 597.4,1202.8 Q498.1,1223.8 410.4,1160.3Z"/>
<path d="M431.4,904.8 Q530.3,859.8 613.4,929.8 L618.4,947.3 Q530.7,883.8 431.4,904.8Z"/>
<path d="M447.4,1210.8 Q517.8,1242.7 592.4,1222.8 Q516.1,1227.2 442.4,1199.5Z"/>
<path d="M436.4,884.8 Q511.0,864.9 581.4,896.8 L586.4,908.0 Q512.7,880.4 436.4,884.8Z"/>
</g>
<g style="mix-blend-mode:difference" fill="#001007" stroke="none">
<path d="M738.6,1056.8 C738.6,1189.5 647.1,1281.0 514.4,1281.0 C381.7,1281.0 290.2,1189.5 290.2,1056.8 C290.2,924.1 381.7,832.6 514.4,832.6 C647.1,832.6 738.6,924.1 738.6,1056.8Z" fill="none" stroke="#001007" stroke-width="9.3"/>
<path d="M347.4,1059.8 Q512.8,1116.8 681.4,1069.8 Q510.9,1089.2 342.4,1039.8Z"/>
<path d="M347.4,1037.8 Q516.0,990.8 681.4,1047.8 L686.4,1067.8 Q517.9,1018.4 347.4,1037.8Z"/>
<path d="M351.4,1088.8 Q510.0,1196.7 678.4,1104.8 Q508.5,1165.7 346.4,1066.3Z"/>
<path d="M350.4,1002.8 Q518.8,910.9 677.4,1018.8 L682.4,1041.3 Q520.3,941.9 350.4,1002.8Z"/>
<path d="M365.4,1123.8 Q508.1,1220.6 661.4,1141.8 Q506.7,1191.3 360.4,1102.5Z"/>
<path d="M367.4,965.8 Q520.7,887.0 663.4,983.8 L668.4,1005.0 Q522.1,916.3 367.4,965.8Z"/>
<path d="M394.4,1149.8 Q508.4,1235.0 636.4,1172.8 Q507.6,1207.4 389.4,1129.8Z"/>
<path d="M392.4,934.8 Q520.4,872.6 634.4,957.8 L639.4,977.8 Q521.2,900.2 392.4,934.8Z"/>
<path d="M415.4,1177.8 Q498.5,1247.8 597.4,1202.8 Q498.1,1223.8 410.4,1160.3Z"/>
<path d="M431.4,904.8 Q530.3,859.8 613.4,929.8 L618.4,947.3 Q530.7,883.8 431.4,904.8Z"/>
<path d="M447.4,1210.8 Q517.8,1242.7 592.4,1222.8 Q516.1,1227.2 442.4,1199.5Z"/>
<path d="M436.4,884.8 Q511.0,864.9 581.4,896.8 L586.4,908.0 Q512.7,880.4 436.4,884.8Z"/>
</g>
<clipPath id="wmclip"><rect x="0" y="500" width="1038" height="217"/></clipPath>
<g style="mix-blend-mode:difference" fill="#181007" stroke="#181007" stroke-width="8" stroke-linejoin="miter" font-weight="bold" font-size="214" clip-path="url(#wmclip)">
<text x="107.8" y="682.6" textLength="359" lengthAdjust="spacingAndGlyphs">ЦЭП</text>
<text x="507.4" y="682.6" textLength="453" lengthAdjust="spacingAndGlyphs">Talks</text>
</g>
</svg>
</body></html>
